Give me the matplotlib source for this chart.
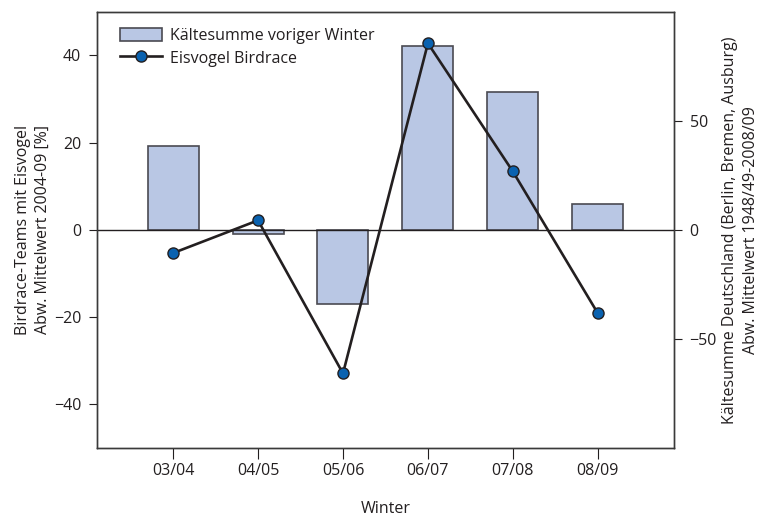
import numpy as np
import matplotlib.pyplot as plt

plt.rcParams['font.family'] = ['Open Sans', 'DejaVu Sans']

winter = ["03/04", "04/05", "05/06", "06/07", "07/08", "08/09"]
kaeltesumme = [38.5, -2.0, -33.9, 84.2, 63.4, 11.9]      # rechte Achse
eisvogel = [-5.3, 2.2, -32.9, 42.8, 13.4, -19.1]          # linke Achse

textfarbe = "#231f20"
fs = 11.5
x = np.arange(len(winter))

fig = plt.figure(figsize=(7.61, 5.17), dpi=100)
ax = fig.add_axes([0.127, 0.1335, 0.759, 0.8435])
ax2 = ax.twinx()

# Balken auf der rechten Achse, Linie auf der linken
balken = ax2.bar(x, kaeltesumme, width=0.6, color="#b9c7e4", edgecolor="#4a4a52",
                 linewidth=1.2, label="Kältesumme voriger Winter", zorder=2)
ax2.axhline(0, color=textfarbe, lw=1.0, zorder=3)
ax2.set_ylim(-100, 100)
ax2.set_yticks([-50, 0, 50])

ax.set_zorder(ax2.get_zorder() + 1)
ax.patch.set_visible(False)
linie, = ax.plot(x, eisvogel, color=textfarbe, lw=1.9, marker="o", markersize=8,
                 markerfacecolor="#0a62b0", markeredgecolor=textfarbe,
                 markeredgewidth=1.0, label="Eisvogel Birdrace")
ax.set_ylim(-50, 50)
ax.set_yticks([-40, -20, 0, 20, 40])
ax.set_xlim(-0.9, 5.9)
ax.set_xticks(x)
ax.set_xticklabels(winter)

for a in (ax, ax2):
    a.tick_params(colors=textfarbe, labelsize=fs, length=6, width=0.8, pad=5)
    for s in a.spines.values():
        s.set_color("#3a3a3a")
        s.set_linewidth(1.0)
ax.tick_params(axis="x", pad=3, length=8)

ax.set_xlabel("Winter", color=textfarbe, fontsize=fs, labelpad=16)
ax.set_ylabel("Birdrace-Teams mit Eisvogel\nAbw. Mittelwert 2004-09 [%]",
              color=textfarbe, fontsize=fs, labelpad=2, linespacing=1.35)
ax2.set_ylabel("Kältesumme Deutschland (Berlin, Bremen, Ausburg)\nAbw. Mittelwert 1948/49-2008/09",
               color=textfarbe, fontsize=fs, labelpad=4, linespacing=1.35)

ax.legend([balken, linie], ["Kältesumme voriger Winter", "Eisvogel Birdrace"],
          loc="upper left", bbox_to_anchor=(0.03, 0.978), frameon=False,
          fontsize=fs, handlelength=2.6, handleheight=0.9, handletextpad=0.5,
          borderaxespad=0.0, labelspacing=0.4, labelcolor=textfarbe)

fig.savefig("out.png", dpi=100)
